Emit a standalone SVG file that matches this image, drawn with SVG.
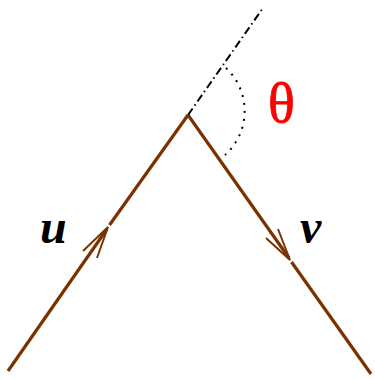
<svg xmlns="http://www.w3.org/2000/svg" width="375" height="379" viewBox="0 0 375 379">
<style>
.vec{stroke:#7a3300;stroke-width:3.2;fill:none;stroke-linecap:butt}
.head{stroke:#7a3300;stroke-width:2;fill:none}
.lbl{font-family:"Liberation Serif",serif;font-weight:bold;font-style:italic;font-size:48px;fill:#000}
</style>
<rect width="375" height="379" fill="#fff"/>
<g id="connectors">
<line class="vec" x1="8" y1="371" x2="107" y2="229"/>
<line class="vec" x1="109.5" y1="225" x2="188" y2="115"/>
<line class="vec" x1="188" y1="115" x2="289" y2="258"/>
<line class="vec" x1="291.5" y1="262" x2="371" y2="374"/>
<path class="head" d="M83,251 L108,227 L97,258"/>
<path class="head" d="M266,238 L290,260 L278,229"/>
<line x1="188" y1="115" x2="263" y2="8" stroke="#000" stroke-width="2" stroke-dasharray="8 3.5 1.5 3.5"/>
<path d="M226,68 A59,59 0 0 1 225,155" fill="none" stroke="#000" stroke-width="2" stroke-dasharray="2 6"/>
</g>
<g id="label-u"><text class="lbl" x="40" y="243">u</text></g>
<g id="label-v"><text class="lbl" x="300" y="243">v</text></g>
<g id="label-theta"><text x="268" y="122" font-family="Liberation Serif,serif" font-size="56" fill="#ff0000" stroke="#ff0000" stroke-width="0.8">θ</text></g>
</svg>
